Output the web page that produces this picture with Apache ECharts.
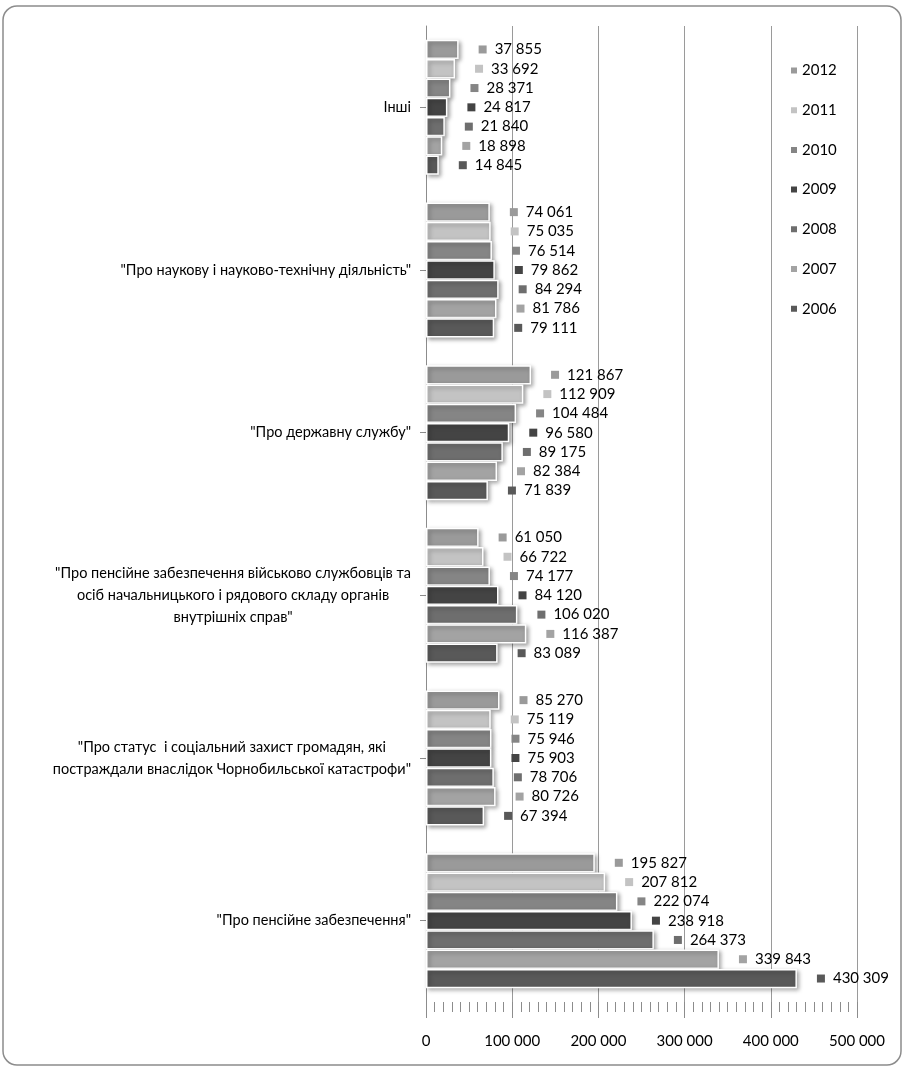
<!DOCTYPE html>
<html>
<head>
<meta charset="utf-8">
<script src="https://cdn.jsdelivr.net/npm/echarts@6/dist/echarts.min.js"></script>
<style>
  html, body { margin: 0; padding: 0; background: #fff; }
  #chart { width: 904px; height: 1069px; }
</style>
</head>
<body>
<div id="chart"></div>
<script>
// Categories, bottom to top
const categories = [
  '"Про пенсійне забезпечення"',
  '"Про статус  і соціальний захист громадян, які\nпостраждали внаслідок Чорнобильської катастрофи"',
  '"Про пенсійне забезпечення військово службовців та\nосіб начальницького і рядового складу органів\nвнутрішніх справ"',
  '"Про державну службу"',
  '"Про наукову і науково-технічну діяльність"',
  'Інші'
];

// Years, top bar of each group first
const years = ['2012', '2011', '2010', '2009', '2008', '2007', '2006'];

// Values per year, same order as categories
const v2012 = [195827, 85270, 61050, 121867, 74061, 37855];
const v2011 = [207812, 75119, 66722, 112909, 75035, 33692];
const v2010 = [222074, 75946, 74177, 104484, 76514, 28371];
const v2009 = [238918, 75903, 84120, 96580, 79862, 24817];
const v2008 = [264373, 78706, 106020, 89175, 84294, 21840];
const v2007 = [339843, 80726, 116387, 82384, 81786, 18898];
const v2006 = [430309, 67394, 83089, 71839, 79111, 14845];

const valueTicks = [0, 100000, 200000, 300000, 400000, 500000];

const seriesValues = [v2012, v2011, v2010, v2009, v2008, v2007, v2006];
const colors = ['#9a9a9a', '#c3c3c3', '#858585', '#444444', '#6e6e6e', '#a3a3a3', '#595959'];

const FONT = 'Lato, "Liberation Sans", sans-serif';

function fmt(n) {
  return String(n).replace(/\B(?=(\d{3})+(?!\d))/g, ' ');
}

const series = years.map((y, i) => ({
  name: y,
  type: 'bar',
  data: seriesValues[i],
  barGap: '0%',
  barCategoryGap: '17%',
  itemStyle: {
    color: colors[i],
    borderColor: '#ffffff',
    borderWidth: 1.5,
    shadowColor: 'rgba(0,0,0,0.35)',
    shadowBlur: 4,
    shadowOffsetX: 2,
    shadowOffsetY: 2
  },
  label: {
    show: true,
    position: 'right',
    distance: 20,
    formatter: p => '{m|}{v|' + fmt(p.value) + '}',
    rich: {
      m: { width: 8, height: 8, backgroundColor: colors[i] },
      v: { fontFamily: FONT, fontSize: 15, color: '#000', padding: [0, 0, 0, 8] }
    }
  }
}));

const chart = echarts.init(document.getElementById('chart'), null, { renderer: 'canvas' });

chart.setOption({
  animation: false,
  backgroundColor: '#ffffff',
  graphic: [{
    type: 'rect',
    shape: { x: 3, y: 6, width: 898, height: 1059, r: 14 },
    style: { fill: 'none', stroke: '#8c8c8c', lineWidth: 1.5 },
    silent: true,
    z: -1
  }],
  legend: {
    orient: 'vertical',
    left: 784,
    top: 58,
    data: years,
    itemWidth: 8,
    itemHeight: 8,
    itemGap: 24.7,
    icon: 'rect',
    textStyle: { fontFamily: FONT, fontSize: 15, color: '#000', padding: [0, 0, 0, -1] }
  },
  grid: { left: 426, right: 47, top: 26, bottom: 67, containLabel: false },
  xAxis: {
    type: 'value',
    min: valueTicks[0],
    max: valueTicks[valueTicks.length - 1],
    interval: valueTicks[1] - valueTicks[0],
    axisLine: { show: false },
    axisTick: { show: true, length: 16, lineStyle: { color: '#8c8c8c' } },
    minorTick: { show: true, splitNumber: 10, length: 10, lineStyle: { color: '#8c8c8c' } },
    splitLine: { show: true, lineStyle: { color: '#9a9a9a', width: 1 } },
    axisLabel: {
      margin: 32,
      fontFamily: FONT,
      fontSize: 15,
      color: '#000',
      formatter: v => fmt(v)
    }
  },
  yAxis: {
    type: 'category',
    data: categories,
    axisLine: { show: true, lineStyle: { color: '#8c8c8c', width: 1 } },
    axisTick: { show: true, alignWithLabel: true, length: 6, lineStyle: { color: '#8c8c8c' } },
    axisLabel: {
      margin: 15,
      align: 'right',
      lineHeight: 22,
      formatter: v => v.split('\n').map(l => '{c|' + l + '}').join('\n'),
      rich: {
        c: { align: 'center', fontFamily: FONT, fontSize: 14.5, color: '#000', lineHeight: 22 }
      }
    }
  },
  series: series
});
</script>
</body>
</html>
